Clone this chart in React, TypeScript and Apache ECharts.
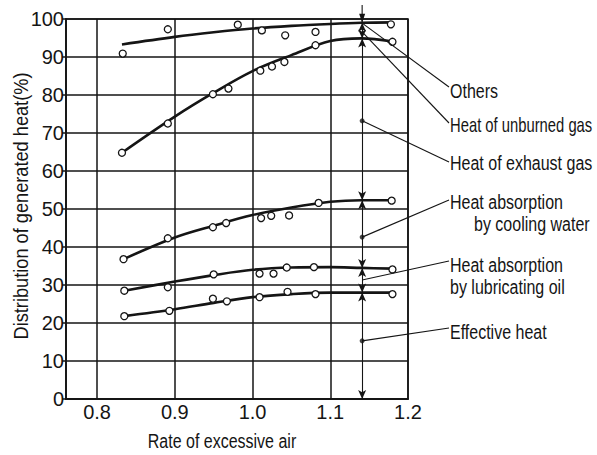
import React, { useEffect, useRef } from "react";
import * as echarts from "echarts";

// ---- data ----
const xTickValues = [0.8, 0.9, 1.0, 1.1, 1.2];

// fitted curves
const othersCurve = [[0.832, 93.3], [0.9, 95.3], [0.95, 96.5], [1.0, 97.5], [1.05, 98.2], [1.1, 98.7], [1.14, 99.0], [1.18, 99.1]];
const exhaustCurve = [[0.832, 64.8], [0.9, 74.3], [0.95, 80.6], [1.0, 86.3], [1.05, 90.5], [1.1, 94.2], [1.14, 94.9], [1.18, 94.1]];
const coolingCurve = [[0.834, 36.8], [0.9, 42.5], [0.95, 45.6], [1.0, 48.4], [1.05, 50.4], [1.1, 51.9], [1.14, 52.3], [1.18, 52.3]];
const lubCurve = [[0.835, 28.5], [0.9, 30.9], [0.95, 32.6], [1.0, 34.0], [1.05, 34.6], [1.1, 34.7], [1.14, 34.5], [1.18, 34.3]];
const effectiveCurve = [[0.835, 21.8], [0.9, 23.6], [0.95, 25.3], [1.0, 26.8], [1.05, 27.6], [1.1, 28.0], [1.14, 28.0], [1.18, 28.0]];

// measured points
const othersPts = [[0.833, 90.9], [0.891, 97.3], [0.981, 98.5], [1.012, 97.0], [1.042, 95.7], [1.081, 96.6], [1.178, 98.6]];
const exhaustPts = [[0.832, 64.8], [0.891, 72.5], [0.949, 80.2], [0.969, 81.7], [1.01, 86.4], [1.025, 87.5], [1.041, 88.7], [1.081, 93.1], [1.18, 94.0]];
const coolingPts = [[0.834, 36.8], [0.891, 42.3], [0.949, 45.2], [0.966, 46.3], [1.011, 47.6], [1.024, 48.2], [1.047, 48.3], [1.085, 51.6], [1.179, 52.2]];
const lubPts = [[0.835, 28.5], [0.891, 29.4], [0.95, 32.8], [1.009, 33.0], [1.027, 33.0], [1.044, 34.6], [1.079, 34.7], [1.18, 34.1]];
const effectivePts = [[0.835, 21.8], [0.893, 23.2], [0.949, 26.4], [0.967, 25.7], [1.009, 26.8], [1.045, 28.2], [1.081, 27.6], [1.18, 27.6]];

// dimension line at x = 1.141
const dimX = 1.141;
const dimBounds = [0, 28.0, 34.5, 52.3, 94.9, 99.0];
const dimTop = 103.7;
const dotValues = [73.2, 42.6, 15.3];
const leaderAnchors = [98.9, 96.6, 73.2, 42.6, 31.3, 15.3];
const leaderTexts = [
  ["Others"],
  ["Heat of unburned gas"],
  ["Heat of exhaust gas"],
  ["Heat absorption", "by cooling water"],
  ["Heat absorption", "by lubricating oil"],
  ["Effective heat"],
];
const xTitle = "Rate of excessive air";
const yTitle = "Distribution of generated heat(%)";

const FONT = '"Liberation Sans", Arial, sans-serif';
const NARROW = 0.8;
const INK = "#151515";

export default function App() {
  const ref = useRef<HTMLDivElement>(null);
  useEffect(() => {
    if (!ref.current) return;
    const chart = echarts.init(ref.current, undefined, { renderer: "svg" });

    const curveSeries = [othersCurve, exhaustCurve, coolingCurve, lubCurve, effectiveCurve].map((d) => ({
      type: "line",
      data: d,
      smooth: 0.35,
      showSymbol: false,
      lineStyle: { color: INK, width: 2.6 },
      z: 3,
    }));
    const ptSeries = [othersPts, exhaustPts, coolingPts, lubPts, effectivePts].map((d) => ({
      type: "scatter",
      data: d,
      symbol: "circle",
      symbolSize: 7,
      itemStyle: { color: "#fff", borderColor: INK, borderWidth: 1.3, opacity: 1 },
      z: 5,
    }));

    const segs = [];
    for (let i = 0; i < dimBounds.length - 1; i++) {
      segs.push([{ coord: [dimX, dimBounds[i]] }, { coord: [dimX, dimBounds[i + 1]] }]);
    }

    chart.setOption({
      animation: false,
      backgroundColor: "#fff",
      grid: { left: 66, right: 189, top: 19, bottom: 56, show: true, borderColor: INK, borderWidth: 1.6, backgroundColor: "transparent" },
      xAxis: {
        type: "value",
        min: 0.76,
        max: 1.2,
        axisLine: { show: true, lineStyle: { color: INK, width: 1.8 } },
        axisTick: { show: false, customValues: xTickValues },
        axisLabel: { customValues: xTickValues, fontFamily: FONT, fontSize: 20, color: INK, margin: 3, formatter: (v: number) => v.toFixed(1) },
        splitLine: { show: true, lineStyle: { color: INK, width: 1.5 } },
      },
      yAxis: {
        type: "value",
        min: 0,
        max: 100,
        interval: 10,
        axisLine: { show: true, lineStyle: { color: INK, width: 1.8 } },
        axisTick: { show: true, inside: false, length: 4, lineStyle: { color: INK, width: 1.5 } },
        axisLabel: { fontFamily: FONT, fontSize: 20, color: INK, margin: 2 },
        splitLine: { show: true, lineStyle: { color: INK, width: 1.5 } },
      },
      series: [
        ...curveSeries,
        ...ptSeries,
        {
          type: "scatter",
          data: dotValues.map((v) => [dimX, v]),
          symbol: "circle",
          symbolSize: 5,
          itemStyle: { color: INK },
          z: 6,
          markLine: {
            silent: true,
            symbol: ["arrow", "arrow"],
            symbolSize: [6, 9],
            label: { show: false },
            lineStyle: { color: INK, width: 1.1, type: "solid" },
            data: segs,
          },
        },
      ],
    });

    const px = (x: number, y: number) => chart.convertToPixel({ xAxisIndex: 0, yAxisIndex: 0 }, [x, y]) as number[];
    const topA = px(dimX, dimBounds[dimBounds.length - 1]);
    const topB = px(dimX, dimTop);
    const graphics: any[] = [
      { type: "line", shape: { x1: topA[0], y1: topA[1], x2: topB[0], y2: topB[1] }, style: { stroke: INK, lineWidth: 1.1 }, z: 10 },
      { type: "polygon", shape: { points: [[topA[0], topA[1]], [topA[0] - 3, topA[1] - 9], [topA[0] + 3, topA[1] - 9]] }, style: { fill: INK }, z: 10 },
      {
        type: "text",
        x: 222,
        y: 441,
        scaleX: NARROW,
        style: { text: xTitle, font: `20px ${FONT}`, fill: INK, verticalAlign: "middle", align: "center" },
        z: 10,
      },
      {
        type: "text",
        x: 21,
        y: 206,
        rotation: Math.PI / 2,
        scaleX: 0.91,
        style: { text: yTitle, font: `20px ${FONT}`, fill: INK, verticalAlign: "middle", align: "center" },
        z: 10,
      },
    ];
    const textX = 450;
    const textYs = [91, 125, 163, 202, 265, 332];
    const leaderEndYs = [87, 123, 162, 200, 261, 328];
    const textScales = [NARROW, 0.74, NARROW, NARROW, NARROW, NARROW];
    leaderAnchors.forEach((v, i) => {
      const p = px(dimX, v);
      graphics.push({
        type: "line",
        shape: { x1: p[0], y1: p[1], x2: textX - 1, y2: leaderEndYs[i] },
        style: { stroke: INK, lineWidth: 1.1 },
        z: 10,
      });
      leaderTexts[i].forEach((t, j) => {
        const indent = j === 1 && i === 3 ? 24 : 0;
        graphics.push({
          type: "text",
          x: textX + indent,
          y: textYs[i] + j * 22,
          scaleX: textScales[i],
          style: { text: t, font: `20px ${FONT}`, fill: INK, verticalAlign: "middle", align: "left" },
          z: 10,
        });
      });
    });
    chart.setOption({ graphic: graphics });

    return () => chart.dispose();
  }, []);
  return <div ref={ref} style={{ position: "absolute", left: 0, top: 0, width: 597, height: 455, background: "#fff" }} />;
}
